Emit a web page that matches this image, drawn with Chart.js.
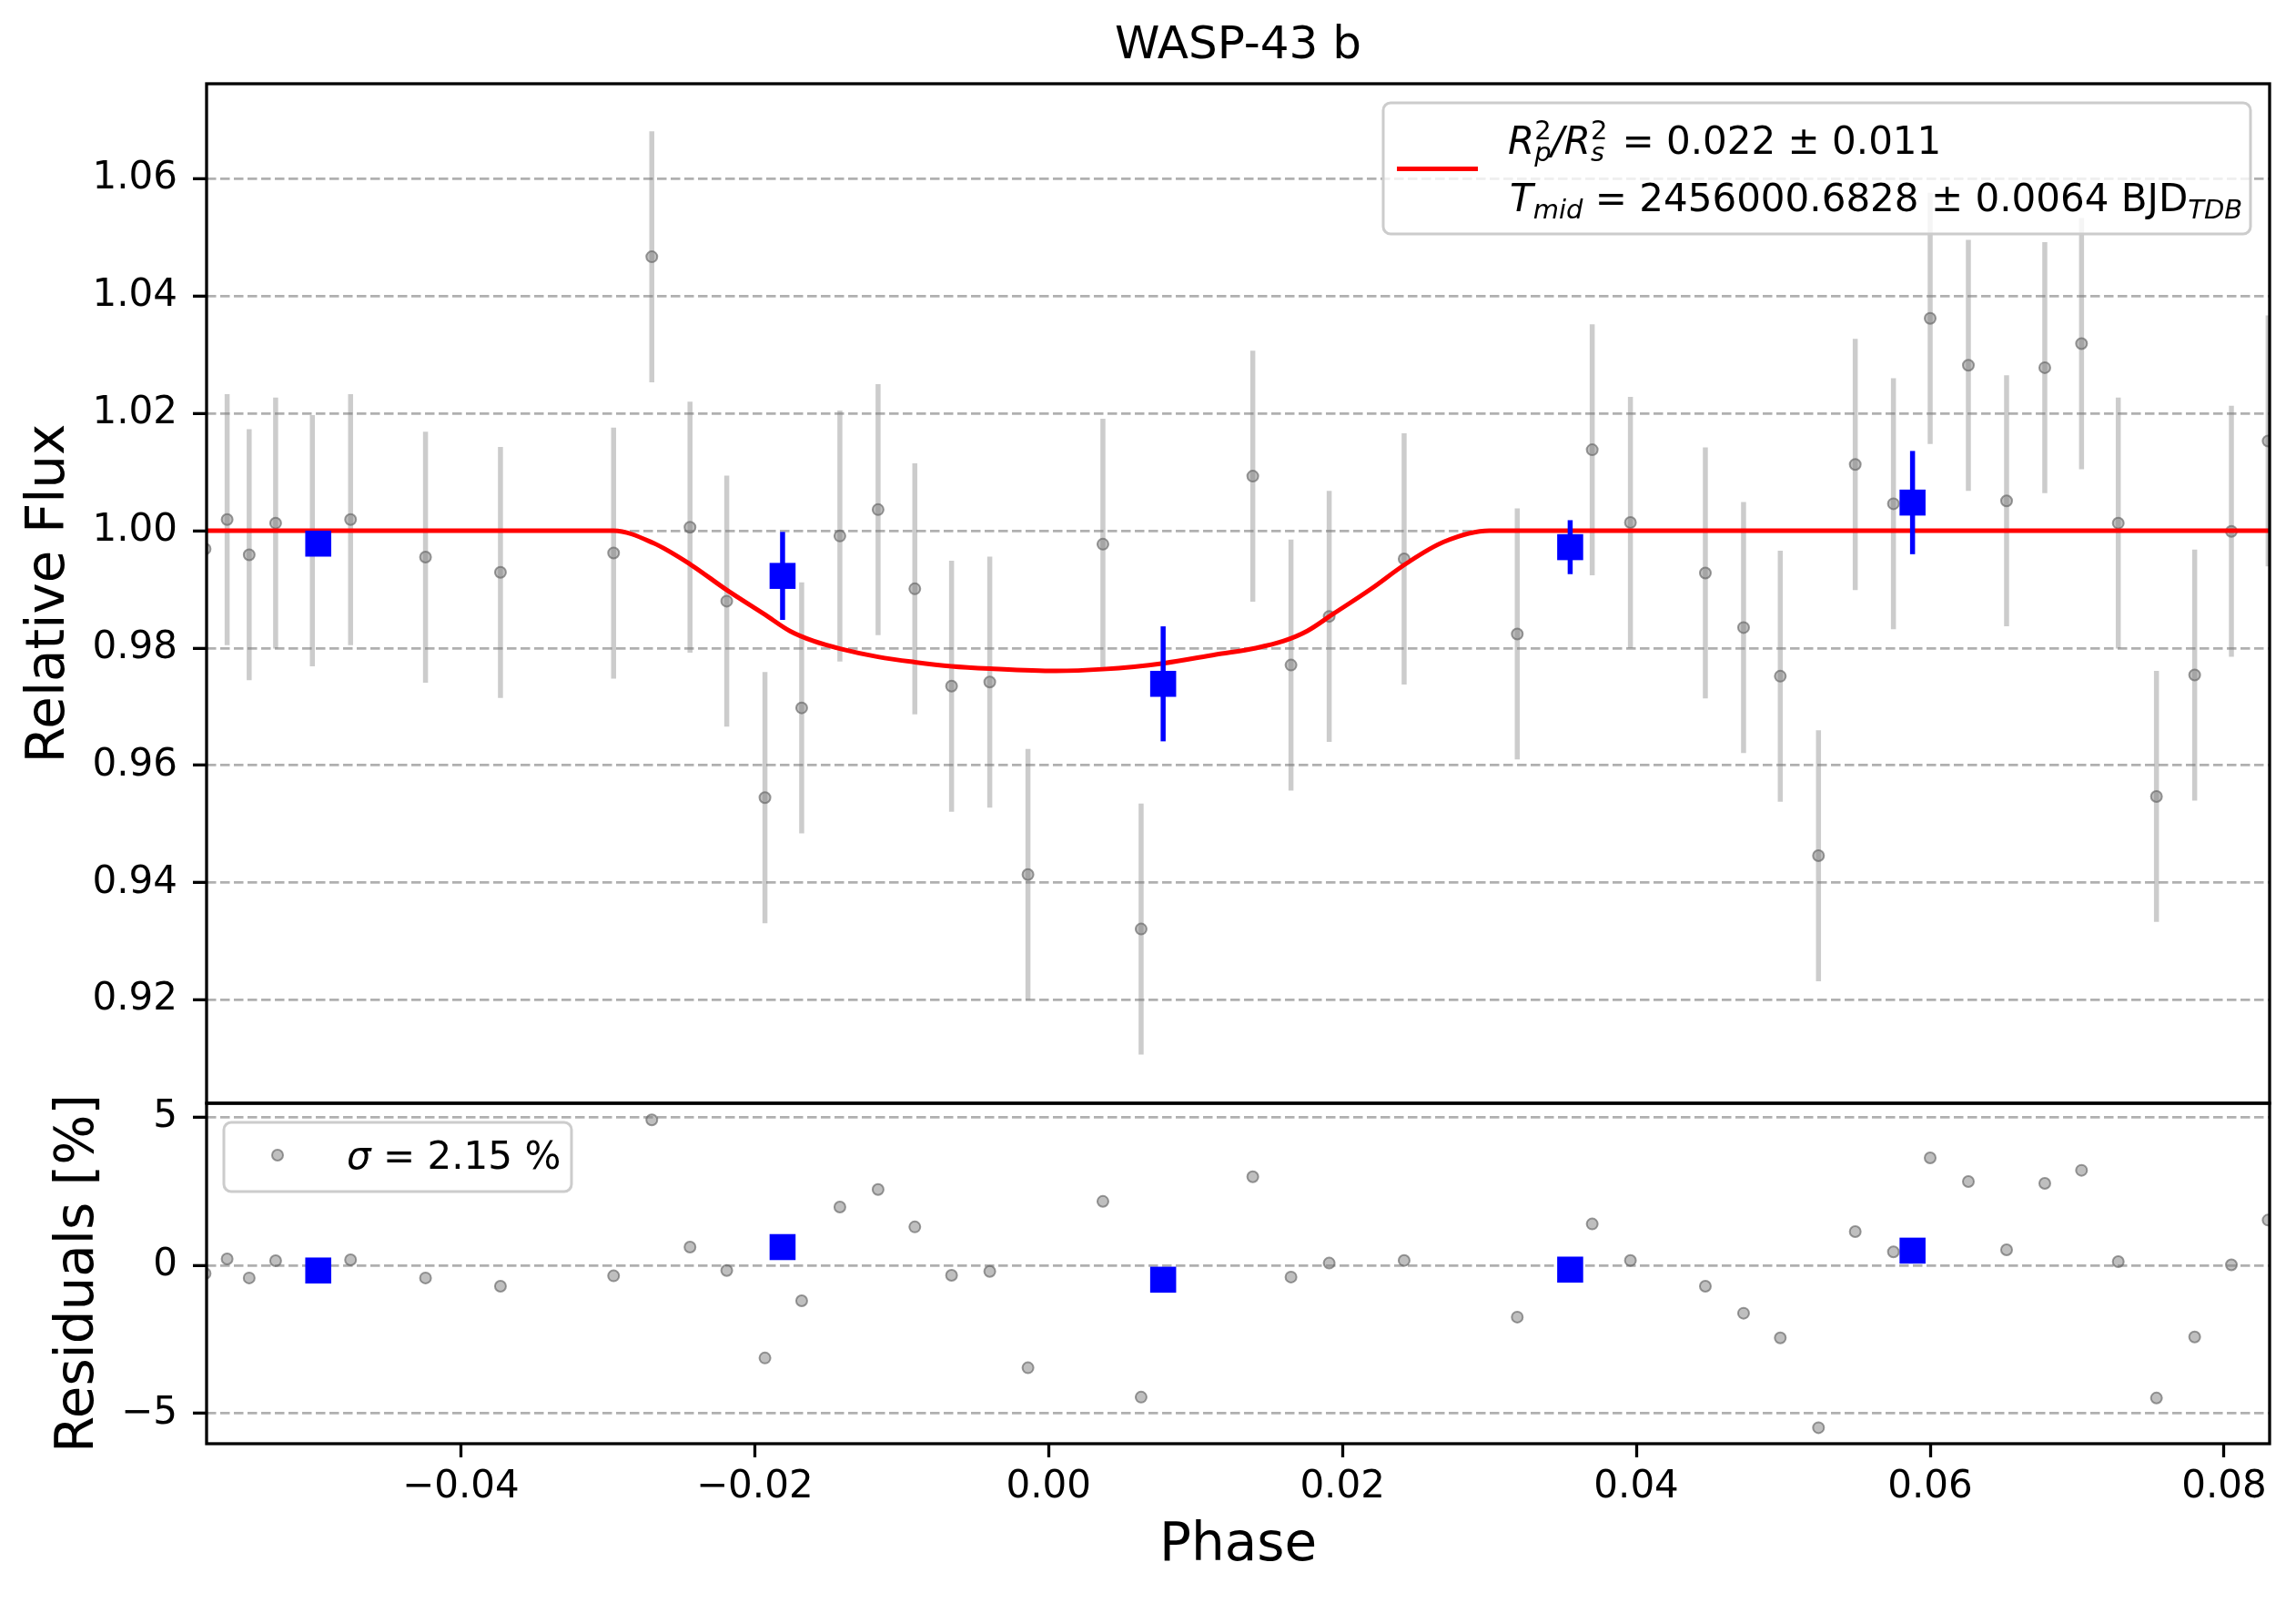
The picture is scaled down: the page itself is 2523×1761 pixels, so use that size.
<!DOCTYPE html>
<html>
<head>
<meta charset="utf-8">
<title>WASP-43 b</title>
<script src="https://cdn.jsdelivr.net/npm/chart.js@4.4.1/dist/chart.umd.min.js"></script>
<style>
  body { margin: 0; background: #fff; }
  #wrap { position: relative; width: 2523px; height: 1761px; background: #fff; }
  #top { position: absolute; left: 0; top: 0; }
  #res { position: absolute; left: 0; top: 1167px; }
</style>
</head>
<body>
<div id="wrap">
  <canvas id="top" width="2523" height="1257"></canvas>
  <canvas id="res" width="2523" height="594"></canvas>
</div>
<script>
// unbinned points (phase, relative flux, residual in %)
const phase = [-0.0574, -0.0559, -0.0544, -0.0526, -0.0501, -0.0475, -0.0424, -0.0373, -0.0296, -0.0270,
  -0.0244, -0.0219, -0.0193, -0.0168, -0.0142, -0.0116, -0.0091, -0.0066, -0.0040, -0.0014,
  0.0037, 0.0063, 0.0139, 0.0165, 0.0191, 0.0242, 0.0319, 0.0370, 0.0396, 0.0447,
  0.0473, 0.0498, 0.0524, 0.0549, 0.0575, 0.0600, 0.0626, 0.0652, 0.0678, 0.0703,
  0.0728, 0.0754, 0.0780, 0.0805, 0.0830];
const flux = [0.9969, 1.0019, 0.9959, 1.0013, 0.9983, 1.0019, 0.9955, 0.9929, 0.9962, 1.0467,
  1.0006, 0.9880, 0.9545, 0.9698, 0.9991, 1.0036, 0.9901, 0.9735, 0.9742, 0.9414,
  0.9977, 0.9321, 1.0093, 0.9771, 0.9854, 0.9952, 0.9824, 1.0138, 1.0014, 0.9928,
  0.9835, 0.9752, 0.9446, 1.0113, 1.0046, 1.0362, 1.0282, 1.0051, 1.0278, 1.0319,
  1.0013, 0.9547, 0.9754, 0.9999, 1.0153];
const fluxErr = 0.0214;
const resid = [-0.28, 0.21, -0.43, 0.15, -0.17, 0.18, -0.43, -0.71, -0.36, 4.90,
  0.61, -0.18, -3.13, -1.20, 1.96, 2.55, 1.29, -0.34, -0.21, -3.46,
  2.15, -4.45, 2.98, -0.40, 0.07, 0.16, -1.75, 1.39, 0.16, -0.71,
  -1.62, -2.45, -5.48, 1.13, 0.45, 3.62, 2.82, 0.52, 2.76, 3.20,
  0.12, -4.48, -2.42, 0.01, 1.52];

// binned points
const binPhase = [-0.0497, -0.0181, 0.0078, 0.0355, 0.0588];
const binFlux = [0.9978, 0.9923, 0.9739, 0.9972, 1.0048];
const binErr = [0.0015, 0.0075, 0.0098, 0.0046, 0.0088];
const binResid = [-0.18, 0.61, -0.49, -0.15, 0.49];

// transit model
const modelPhase = [-0.0573, -0.0296, -0.0269, -0.0244, -0.0219, -0.0193, -0.0176, -0.0160, -0.0142, -0.0116,
  -0.0091, -0.0066, -0.0040, 0.0005, 0.0037, 0.0078, 0.0114, 0.0141, 0.0160, 0.0176,
  0.0193, 0.0219, 0.0244, 0.0269, 0.0300, 0.0831];
const modelFlux = [1.0, 1.0, 0.9979, 0.9943, 0.9899, 0.9857, 0.9829, 0.9812, 0.9799, 0.9785,
  0.9776, 0.9769, 0.9765, 0.9761, 0.9764, 0.9774, 0.9789, 0.9800, 0.9812, 0.9829,
  0.9857, 0.9900, 0.9945, 0.9981, 1.0, 1.0];

const phaseTicks = [-0.04, -0.02, 0.00, 0.02, 0.04, 0.06, 0.08];
const fluxTicks = [0.92, 0.94, 0.96, 0.98, 1.00, 1.02, 1.04, 1.06];
const residTicks = [-5, 0, 5];

const FONT = '"DejaVu Sans", sans-serif';
Chart.defaults.font.family = FONT;
Chart.defaults.color = '#000';

function fmt(v, d) {
  return v.toFixed(d).replace('-', '\u2212');
}
function pts(xs, ys) {
  return xs.map((x, i) => ({ x: x, y: ys[i] }));
}

// rich text with sub / superscripts, drawn left to right
function drawSegs(ctx, x, y, segs) {
  ctx.textBaseline = 'alphabetic';
  ctx.textAlign = 'left';
  ctx.fillStyle = '#000';
  segs.forEach(s => {
    x += s.gap || 0;
    ctx.font = (s.it ? 'italic ' : '') + (s.size || 42) + 'px ' + FONT;
    ctx.fillText(s.t, x, y + (s.dy || 0));
    if (!s.keep) x += ctx.measureText(s.t).width;
  });
}

function legendBox(ctx, x, y, w, h) {
  ctx.save();
  ctx.beginPath();
  ctx.roundRect(x, y, w, h, 8);
  ctx.fillStyle = 'rgba(255,255,255,0.8)';
  ctx.fill();
  ctx.lineWidth = 3;
  ctx.strokeStyle = '#cccccc';
  ctx.stroke();
  ctx.restore();
}

// vertical error bars drawn under their dataset
const errorBars = {
  id: 'errorBars',
  beforeDatasetDraw(chart, args) {
    const ds = chart.data.datasets[args.index];
    if (ds.errY === undefined) return;
    const ctx = chart.ctx, xs = chart.scales.x, ys = chart.scales.y, a = chart.chartArea;
    ctx.save();
    ctx.beginPath();
    ctx.rect(a.left, a.top, a.right - a.left, a.bottom - a.top);
    ctx.clip();
    ctx.strokeStyle = ds.errColor;
    ctx.lineWidth = ds.errWidth;
    ds.data.forEach((p, i) => {
      const e = Array.isArray(ds.errY) ? ds.errY[i] : ds.errY;
      const px = xs.getPixelForValue(p.x);
      ctx.beginPath();
      ctx.moveTo(px, ys.getPixelForValue(p.y - e));
      ctx.lineTo(px, ys.getPixelForValue(p.y + e));
      ctx.stroke();
    });
    ctx.restore();
  }
};

// axes frame + hand drawn legends
const frameAndLegend = {
  id: 'frameAndLegend',
  afterDraw(chart) {
    const ctx = chart.ctx, a = chart.chartArea;
    ctx.save();
    ctx.lineWidth = 3.3;
    ctx.strokeStyle = '#000';
    ctx.strokeRect(a.left, a.top, a.right - a.left, a.bottom - a.top);
    ctx.restore();

    if (chart.canvas.id === 'top') {
      const w = 953, h = 144;
      const bx = a.right - 21 - w, by = a.top + 21;
      legendBox(ctx, bx, by, w, h);
      ctx.save();
      ctx.strokeStyle = '#ff0000';
      ctx.lineWidth = 5;
      ctx.beginPath();
      ctx.moveTo(bx + 15, by + 72.6);
      ctx.lineTo(bx + 104, by + 72.6);
      ctx.stroke();
      drawSegs(ctx, bx + 137, by + 56, [
        { t: 'R', it: true },
        { t: '2', size: 29, dy: -16.5, keep: true },
        { t: 'p', it: true, size: 29, dy: 8 },
        { t: '/', it: true },
        { t: 'R', it: true },
        { t: '2', size: 29, dy: -16.5, keep: true },
        { t: 's', it: true, size: 29, dy: 8 },
        { t: ' = 0.022 \u00b1 0.011', gap: 6 }
      ]);
      drawSegs(ctx, bx + 139, by + 118.6, [
        { t: 'T', it: true },
        { t: 'mid', it: true, size: 29, dy: 8 },
        { t: ' = 2456000.6828 \u00b1 0.0064 BJD' },
        { t: 'TDB', it: true, size: 29, dy: 8 }
      ]);
      ctx.restore();
    } else {
      const bx = a.left + 19, by = a.top + 21;
      legendBox(ctx, bx, by, 382, 76);
      ctx.save();
      ctx.beginPath();
      ctx.arc(bx + 59, by + 36, 6, 0, Math.PI * 2);
      ctx.fillStyle = 'rgba(128,128,128,0.5)';
      ctx.fill();
      ctx.lineWidth = 2;
      ctx.strokeStyle = 'rgba(100,100,100,0.65)';
      ctx.stroke();
      drawSegs(ctx, bx + 135, by + 51, [
        { t: '\u03c3', it: true },
        { t: ' = 2.15 %' }
      ]);
      ctx.restore();
    }
  }
};

const grayStyle = {
  pointRadius: 6,
  backgroundColor: 'rgba(128,128,128,0.5)',
  borderColor: 'rgba(100,100,100,0.65)',
  borderWidth: 2,
  clip: 0
};
const blueStyle = {
  pointStyle: 'rect',
  pointRadius: 20.2,
  backgroundColor: '#0000ff',
  borderWidth: 0,
  clip: 0
};

const xRange = { type: 'linear', min: -0.0573, max: 0.0831 };
const yGrid = { color: '#b0b0b0', lineWidth: 2.7, tickColor: '#000', tickLength: 15, tickWidth: 3.3 };

new Chart(document.getElementById('top'), {
  type: 'scatter',
  data: {
    datasets: [
      Object.assign({
        data: pts(phase, flux),
        errY: fluxErr, errColor: 'rgba(128,128,128,0.4)', errWidth: 5.5,
        order: 3
      }, grayStyle),
      {
        data: pts(modelPhase, modelFlux),
        showLine: true,
        pointRadius: 0,
        borderColor: '#ff0000',
        borderWidth: 5,
        cubicInterpolationMode: 'monotone',
        clip: 0,
        order: 2
      },
      Object.assign({
        data: pts(binPhase, binFlux),
        errY: binErr, errColor: '#0000ff', errWidth: 5.5,
        order: 1
      }, blueStyle)
    ]
  },
  options: {
    responsive: false,
    devicePixelRatio: 1,
    animation: false,
    events: [],
    layout: { padding: { top: 21, left: 0, right: 29, bottom: 45 } },
    plugins: {
      legend: { display: false },
      tooltip: { enabled: false },
      title: {
        display: true,
        fullSize: false,
        text: 'WASP-43 b',
        color: '#000',
        font: { size: 50, weight: 'normal' },
        padding: { top: 0, bottom: 11 }
      }
    },
    scales: {
      x: Object.assign({ display: false }, xRange),
      y: {
        type: 'linear',
        min: 0.9024,
        max: 1.0762,
        afterBuildTicks: s => { s.ticks = fluxTicks.map(v => ({ value: v })); },
        afterFit: s => { s.width = 227; },
        grid: yGrid,
        border: { display: false, dash: [10.5, 4.5] },
        ticks: { color: '#000', font: { size: 42 }, padding: 17, callback: v => fmt(v, 2) },
        title: { display: true, text: 'Relative Flux', color: '#000', font: { size: 58 }, padding: { top: 20 } }
      }
    }
  },
  plugins: [errorBars, frameAndLegend]
});

new Chart(document.getElementById('res'), {
  type: 'scatter',
  data: {
    datasets: [
      Object.assign({ data: pts(phase, resid), order: 2 }, grayStyle),
      Object.assign({ data: pts(binPhase, binResid), order: 1 }, blueStyle)
    ]
  },
  options: {
    responsive: false,
    devicePixelRatio: 1,
    animation: false,
    events: [],
    layout: { padding: { top: 45, left: 0, right: 29, bottom: 0 } },
    plugins: {
      legend: { display: false },
      tooltip: { enabled: false }
    },
    scales: {
      x: Object.assign({
        afterBuildTicks: s => { s.ticks = phaseTicks.map(v => ({ value: v })); },
        afterFit: s => { s.height = 175; },
        grid: { drawOnChartArea: false, drawTicks: true, tickColor: '#000', tickLength: 15, tickWidth: 3.3 },
        border: { display: false },
        ticks: { color: '#000', font: { size: 42 }, padding: 8, maxRotation: 0, callback: v => fmt(v, 2) },
        title: { display: true, text: 'Phase', color: '#000', font: { size: 58 }, padding: { bottom: 27 } }
      }, xRange),
      y: {
        type: 'linear',
        min: -6.02,
        max: 5.46,
        afterBuildTicks: s => { s.ticks = residTicks.map(v => ({ value: v })); },
        afterFit: s => { s.width = 227; },
        grid: yGrid,
        border: { display: false, dash: [10.5, 4.5] },
        ticks: { color: '#000', font: { size: 42 }, padding: 17, callback: v => fmt(v, 0) },
        title: { display: true, text: 'Residuals [%]', color: '#000', font: { size: 58 }, padding: { top: 52 } }
      }
    }
  },
  plugins: [frameAndLegend]
});
</script>
</body>
</html>
